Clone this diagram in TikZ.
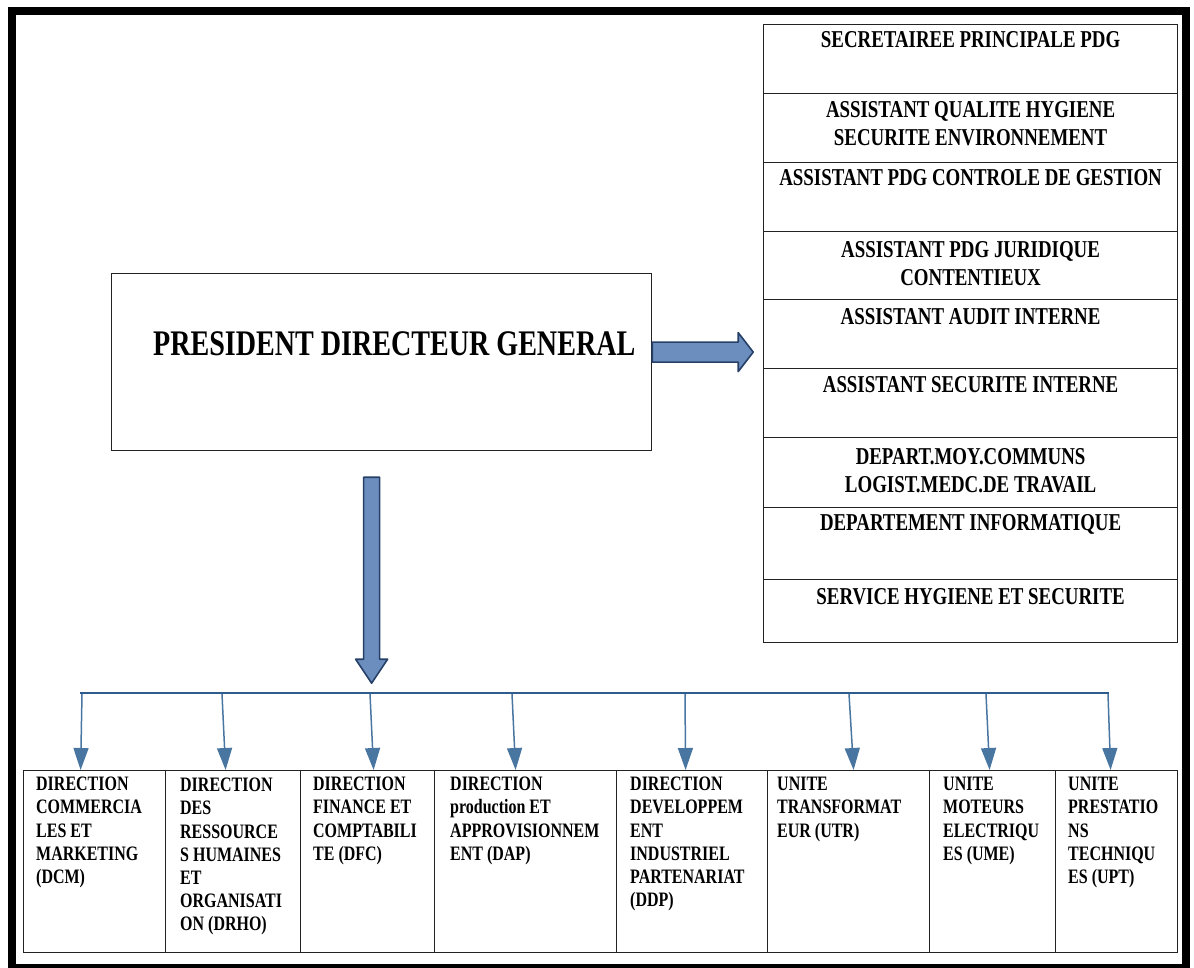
\documentclass[tikz,border=0pt]{standalone}
\usepackage{fontspec}
\setmainfont[FakeStretch=0.78]{Liberation Serif}
\usetikzlibrary{calc,arrows.meta}
\definecolor{arrowfill}{RGB}{108,142,190}
\definecolor{arrowedge}{RGB}{38,64,104}
\definecolor{busblue}{RGB}{46,92,140}
\definecolor{linkblue}{RGB}{72,118,160}
\definecolor{boxline}{RGB}{34,34,34}

\begin{document}
\begin{tikzpicture}[x=1pt,y=-1pt,
  cell/.style={draw=boxline, line width=1.2pt, inner sep=0pt, anchor=north west},
  celltext/.style={font=\fontsize{24.2}{28.5}\selectfont\bfseries, align=center, inner sep=0pt, anchor=north},
  unittext/.style={font=\fontsize{20.5}{23.2}\selectfont\bfseries, align=left, inner sep=0pt, anchor=north west},
  blockarrow/.style={fill=arrowfill, draw=arrowedge, line width=1.6pt, line join=round},
  link/.style={draw=linkblue, line width=1.5pt, -{Triangle[length=22pt,width=15pt]}},
  bus/.style={draw=busblue, line width=2pt},
]
\useasboundingbox (0,0) rectangle (1194,967);

% outer frame
\draw[line width=8pt] (12,11) rectangle (1185.5,968);

% chief executive
\node[cell, minimum width=540pt, minimum height=177pt] (pdg) at (111,273) {};
\node[font=\fontsize{36}{40}\selectfont\bfseries, inner sep=0pt, anchor=base west]
  (pdgtitle) at (153,355) {PRESIDENT DIRECTEUR GENERAL};

% staff column
\node[cell, minimum width=414pt, minimum height=69pt] (s1) at (763,24) {};
\node[cell, minimum width=414pt, minimum height=69pt] (s2) at (763,93) {};
\node[cell, minimum width=414pt, minimum height=69pt] (s3) at (763,162) {};
\node[cell, minimum width=414pt, minimum height=68pt] (s4) at (763,231) {};
\node[cell, minimum width=414pt, minimum height=69pt] (s5) at (763,299) {};
\node[cell, minimum width=414pt, minimum height=69pt] (s6) at (763,368) {};
\node[cell, minimum width=414pt, minimum height=70pt] (s7) at (763,437) {};
\node[cell, minimum width=414pt, minimum height=72pt] (s8) at (763,507) {};
\node[cell, minimum width=414pt, minimum height=63pt] (s9) at (763,579) {};

\node[celltext] (s1t) at ($(s1.north)+(0,7)$) {SECRETAIREE PRINCIPALE PDG};
\node[celltext] (s2t) at ($(s2.north)+(0,8)$) {ASSISTANT QUALITE HYGIENE\\SECURITE ENVIRONNEMENT};
\node[celltext] (s3t) at ($(s3.north)+(0,7)$) {ASSISTANT PDG CONTROLE DE GESTION};
\node[celltext] (s4t) at ($(s4.north)+(0,10)$) {ASSISTANT PDG JURIDIQUE\\CONTENTIEUX};
\node[celltext] (s5t) at ($(s5.north)+(0,9)$) {ASSISTANT AUDIT INTERNE};
\node[celltext] (s6t) at ($(s6.north)+(0,8)$) {ASSISTANT SECURITE INTERNE};
\node[celltext] (s7t) at ($(s7.north)+(0,11)$) {DEPART.MOY.COMMUNS\\LOGIST.MEDC.DE TRAVAIL};
\node[celltext] (s8t) at ($(s8.north)+(0,7)$) {DEPARTEMENT INFORMATIQUE};
\node[celltext] (s9t) at ($(s9.north)+(0,9)$) {SERVICE HYGIENE ET SECURITE};

% operational directions
\node[cell, minimum width=142pt, minimum height=182pt] (b1) at (23,770) {};
\node[cell, minimum width=135pt, minimum height=182pt] (b2) at (165,770) {};
\node[cell, minimum width=134pt, minimum height=182pt] (b3) at (300,770) {};
\node[cell, minimum width=182pt, minimum height=182pt] (b4) at (434,770) {};
\node[cell, minimum width=151pt, minimum height=182pt] (b5) at (616,770) {};
\node[cell, minimum width=162pt, minimum height=182pt] (b6) at (767,770) {};
\node[cell, minimum width=126pt, minimum height=182pt] (b7) at (929,770) {};
\node[cell, minimum width=122pt, minimum height=182pt] (b8) at (1055,770) {};

\node[unittext] (b1t) at ($(b1.north west)+(13,7)$) {DIRECTION\\COMMERCIA\\LES ET\\MARKETING\\(DCM)};
\node[unittext] (b2t) at ($(b2.north west)+(15,8)$) {DIRECTION\\DES\\RESSOURCE\\S HUMAINES\\ET\\ORGANISATI\\ON (DRHO)};
\node[unittext] (b3t) at ($(b3.north west)+(13,7)$) {DIRECTION\\FINANCE ET\\COMPTABILI\\TE (DFC)};
\node[unittext] (b4t) at ($(b4.north west)+(16,7)$) {DIRECTION\\production ET\\APPROVISIONNEM\\ENT (DAP)};
\node[unittext] (b5t) at ($(b5.north west)+(14,7)$) {DIRECTION\\DEVELOPPEM\\ENT\\INDUSTRIEL\\PARTENARIAT\\(DDP)};
\node[unittext] (b6t) at ($(b6.north west)+(10,7)$) {UNITE\\TRANSFORMAT\\EUR (UTR)};
\node[unittext] (b7t) at ($(b7.north west)+(14,7)$) {UNITE\\MOTEURS\\ELECTRIQU\\ES (UME)};
\node[unittext] (b8t) at ($(b8.north west)+(13,7)$) {UNITE\\PRESTATIO\\NS\\TECHNIQU\\ES (UPT)};

% block arrow towards the staff column
\coordinate (ra) at ($(pdg.east)+(0,-10)$);
\draw[blockarrow] (ra) -- ++(0,-10) -- ++(86,0) -- ++(0,-9.5) -- ++(15,19.5)
  -- ++(-15,19.5) -- ++(0,-9.5) -- ++(-86,0) -- cycle;

% block arrow towards the directions
\coordinate (da) at ($(pdg.south)+(-10,26)$);
\draw[blockarrow] (da) -- ++(-8,0) -- ++(0,182) -- ++(-8,0) -- ++(16,24)
  -- ++(16,-24) -- ++(-8,0) -- ++(0,-182) -- cycle;

% distribution bus
\coordinate (busL) at (80,693);
\coordinate (busR) at (1109,693);
\draw[bus] (busL) -- (busR);

\coordinate (t1) at (82,694);
\coordinate (t2) at (222,694);
\coordinate (t3) at (370,694);
\coordinate (t4) at (512,694);
\coordinate (t5) at (685,694);
\coordinate (t6) at (849,694);
\coordinate (t7) at (986,694);
\coordinate (t8) at (1108,694);

\draw[link] (t1) -- ($(b1.north)+(-14,0)$);
\draw[link] (t2) -- ($(b2.north)+(-7.5,0)$);
\draw[link] (t3) -- ($(b3.north)+(6,0)$);
\draw[link] (t4) -- ($(b4.north)+(-10,0)$);
\draw[link] (t5) -- ($(b5.north)+(-6.5,0)$);
\draw[link] (t6) -- ($(b6.north)+(5,0)$);
\draw[link] (t7) -- ($(b7.north)+(-3,0)$);
\draw[link] (t8) -- ($(b8.north)+(-6,0)$);
\end{tikzpicture}
\end{document}
